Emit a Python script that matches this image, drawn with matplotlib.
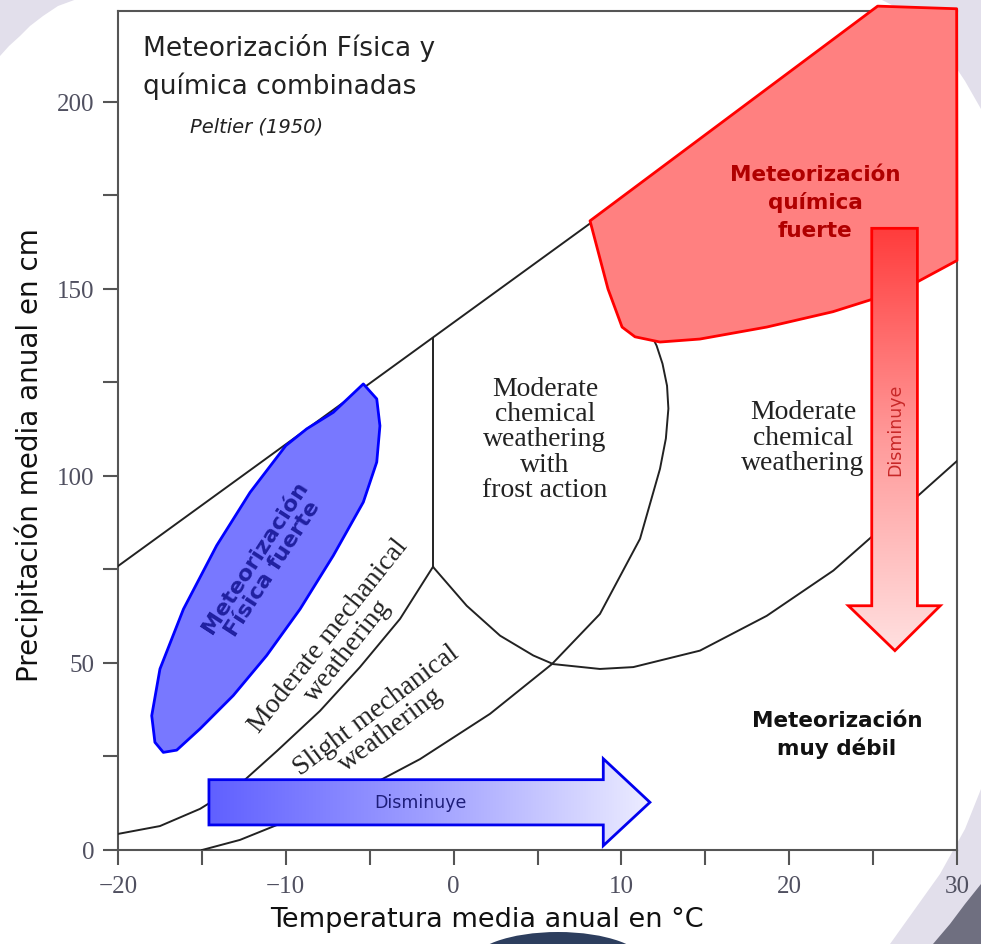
import numpy as np
import matplotlib
matplotlib.use("Agg")
import matplotlib.pyplot as plt
from matplotlib.patches import Polygon, Ellipse
from matplotlib.colors import LinearSegmentedColormap

# ---- datos leidos del diagrama de Peltier (1950) ----
# linea superior (limite de precipitacion)
upper_x = [-20, 8.1, 25.3]
upper_y = [75.9, 167.4, 224.5]

# linea vertical (frost action / mechanical)
vert_x = [-1.23, -1.23]
vert_y = [75.7, 137.0]

# curva moderate mechanical / slight mechanical
curveA_x = [-20, -17.5, -15.11, -12.73, -10.52, -7.96, -5.58, -3.19, -1.23]
curveA_y = [4.3, 6.4, 11.0, 17.6, 26.5, 37.2, 48.9, 61.8, 75.7]

# curva slight mechanical / muy debil  ->  frost action / moderate chemical
curveB_x = [-14.99, -12.73, -10.52, -6.17, -2.0, 2.17, 5.86, 8.72, 11.11,
            12.3, 12.65, 12.8, 12.72, 12.45, 12.1, 11.7]
curveB_y = [0.0, 2.7, 6.7, 14.4, 24.3, 36.4, 49.7, 63.1, 83.2,
            101.9, 110.0, 118.0, 124.1, 130.0, 134.8, 138.5]

# curva inferior de moderate chemical weathering
curveC_x = [-1.21, 0.78, 2.77, 4.75, 5.94, 8.72, 10.71, 14.68, 18.66, 22.63, 26.6, 30.0]
curveC_y = [75.6, 65.3, 57.3, 52.0, 49.7, 48.4, 48.9, 53.3, 62.6, 74.7, 90.4, 104.0]

# zona roja: meteorizacion quimica fuerte
red_x = [25.27, 29.98, 30.0, 27.6, 25.0, 22.6, 18.66, 14.68, 12.3, 10.81, 10.04, 9.2, 8.13]
red_y = [225.6, 224.9, 157.6, 151.8, 147.3, 143.9, 139.8, 136.6, 135.8, 137.2, 139.8, 150.0, 168.2]

# zona azul: meteorizacion fisica fuerte
blue_x = [-5.38, -4.58, -4.39, -4.58, -5.38, -7.17, -9.15, -11.14, -13.13, -15.11, -16.5,
          -17.3, -17.8, -17.99, -17.5, -16.1, -14.12, -12.13, -10.0, -8.75, -7.17]
blue_y = [124.6, 120.6, 113.4, 103.7, 93.0, 78.7, 64.4, 52.0, 41.3, 32.4, 26.7,
          26.1, 28.8, 35.9, 48.4, 64.4, 81.4, 95.6, 108.1, 112.6, 117.0]

# flecha roja (disminuye hacia abajo)
rarrow_x = [24.92, 27.64, 27.64, 29.0, 26.3, 23.53, 24.92]
rarrow_y = [166.2, 166.2, 65.3, 65.3, 53.3, 65.3, 65.3]

# flecha azul (disminuye hacia la derecha)
barrow_x = [-14.58, 8.92, 8.92, 11.7, 8.92, 8.92, -14.58]
barrow_y = [18.8, 18.8, 24.4, 12.75, 1.15, 6.7, 6.7]

xticks = [-20, -15, -10, -5, 0, 5, 10, 15, 20, 25, 30]
xlabels = ["\u221220", "", "\u221210", "", "0", "", "10", "", "20", "", "30"]
yticks = [0, 25, 50, 75, 100, 125, 150, 175, 200]
ylabels = ["0", "", "50", "", "100", "", "150", "", "200"]

fig = plt.figure(figsize=(9.81, 9.45), dpi=100, facecolor="white")

# ---- fondo decorativo (coordenadas en pixeles) ----
bg = fig.add_axes([0, 0, 1, 1], zorder=0)
bg.set_xlim(0, 981)
bg.set_ylim(945, 0)
bg.axis("off")
lav = "#e2dfeb"
bg.add_patch(Polygon([(0, 0), (77, 0), (58, 7), (43, 17), (30, 27), (20, 37), (9, 47), (0, 57)],
                     closed=True, fc=lav, ec="none"))
bg.add_patch(Polygon([(880, 0), (981, 0), (981, 110), (965, 82), (945, 52), (925, 30), (905, 14), (890, 5)],
                     closed=True, fc=lav, ec="none"))
bg.add_patch(Polygon([(981, 790), (965, 830), (940, 875), (915, 910), (890, 945), (981, 945)],
                     closed=True, fc=lav, ec="none"))
bg.add_patch(Polygon([(933, 945), (950, 925), (965, 905), (981, 885), (981, 945)],
                     closed=True, fc="#6f6f80", ec="none"))
bg.add_patch(Ellipse((558, 965), 175, 64, fc="#2d3e5e", ec="none"))

# ---- grafico principal ----
ax = fig.add_axes([118 / 981, 1 - 851 / 945, 839 / 981, 839 / 945], zorder=1)
ax.set_facecolor("white")
ax.set_xlim(-20, 30)
ax.set_ylim(0, 224.3)

lk = dict(color="#222222", lw=1.4, zorder=2, solid_joinstyle="round")
ax.plot(upper_x, upper_y, **lk)
ax.plot(vert_x, vert_y, **lk)
ax.plot(curveA_x, curveA_y, **lk)
ax.plot(curveB_x, curveB_y, **lk)
ax.plot(curveC_x, curveC_y, **lk)

ax.add_patch(Polygon(np.column_stack([red_x, red_y]), closed=True, fc="#ff8080", ec="#ff0000",
                     lw=2, zorder=3, clip_on=False, joinstyle="round"))
ax.add_patch(Polygon(np.column_stack([blue_x, blue_y]), closed=True, fc="#7878ff", ec="#0000ff",
                     lw=2, zorder=3, joinstyle="round"))

# flechas con degradado
grad = np.linspace(0, 1, 256)
rp = Polygon(np.column_stack([rarrow_x, rarrow_y]), closed=True, fc="none", ec="#ff0000", lw=2, zorder=5)
ax.add_patch(rp)
rcm = LinearSegmentedColormap.from_list("r", ["#ffe0e0", "#ff9a9a", "#ff3c3c"])
im = ax.imshow(grad.reshape(-1, 1), extent=[min(rarrow_x), max(rarrow_x), min(rarrow_y), max(rarrow_y)],
               origin="lower", cmap=rcm, aspect="auto", zorder=4)
im.set_clip_path(rp)

bp = Polygon(np.column_stack([barrow_x, barrow_y]), closed=True, fc="none", ec="#0000ee", lw=2, zorder=5)
ax.add_patch(bp)
bcm = LinearSegmentedColormap.from_list("b", ["#6060ff", "#a0a0ff", "#ececff"])
im2 = ax.imshow(grad.reshape(1, -1), extent=[min(barrow_x), max(barrow_x), min(barrow_y), max(barrow_y)],
                origin="lower", cmap=bcm, aspect="auto", zorder=4)
im2.set_clip_path(bp)

ax.set_xlim(-20, 30)
ax.set_ylim(0, 224.3)

# ---- textos ----
sans = "DejaVu Sans"
serif = "Liberation Serif"
ax.text(-18.51, 212.5, "Meteorización Física y", fontsize=19, family=sans, color="#222222",
        ha="left", va="baseline", zorder=6)
ax.text(-18.51, 202.5, "química combinadas", fontsize=19, family=sans, color="#222222",
        ha="left", va="baseline", zorder=6)
ax.text(-15.7, 192.0, "Peltier (1950)", fontsize=14, family=sans, style="italic",
        color="#222222", ha="left", va="baseline", zorder=6)

ax.text(21.54, 173.3, "Meteorización\nquímica\nfuerte", fontsize=15.5, family=sans, weight="bold",
        color="#b00000", ha="center", va="center", linespacing=1.45, zorder=6)
ax.text(22.85, 31.0, "Meteorización\nmuy débil", fontsize=15.5, family=sans, weight="bold",
        color="#111111", ha="center", va="center", linespacing=1.4, zorder=6)
ax.text(-11.3, 77.0, "Meteorización\nFísica fuerte", fontsize=16, family=sans, weight="bold",
        color="#2020a0", ha="center", va="center", rotation=57, rotation_mode="anchor",
        linespacing=1.05, zorder=6)

ax.text(5.45, 109.9, "Moderate\nchemical\nweathering\nwith\nfrost action", fontsize=20, family=serif,
        color="#222222", ha="center", va="center", linespacing=1.02, zorder=6)
ax.text(20.82, 110.4, "Moderate\nchemical\nweathering", fontsize=20, family=serif,
        color="#222222", ha="center", va="center", linespacing=1.02, zorder=6)
ax.text(-6.9, 55.5, "Moderate mechanical\nweathering", fontsize=20, family=serif,
        color="#222222", ha="center", va="center", rotation=51.5, rotation_mode="anchor",
        linespacing=0.95, zorder=6)
ax.text(-4.2, 35.0, "Slight mechanical\nweathering", fontsize=20, family=serif,
        color="#222222", ha="center", va="center", rotation=37, rotation_mode="anchor",
        linespacing=0.95, zorder=6)

ax.text(26.3, 112.6, "Disminuye", fontsize=12.5, family=sans, color="#c82828",
        ha="center", va="center", rotation=90, zorder=6)
ax.text(-2.0, 12.8, "Disminuye", fontsize=12.5, family=sans, color="#1e1e7a",
        ha="center", va="center", zorder=6)

# ---- ejes ----
for s in ["left", "bottom", "top", "right"]:
    ax.spines[s].set_color("#555555")
    ax.spines[s].set_linewidth(1.5)
    ax.spines[s].set_zorder(1)
ax.set_xticks(xticks, labels=xlabels)
ax.set_yticks(yticks, labels=ylabels)
ax.tick_params(axis="both", direction="out", length=11, width=1.5, color="#555555",
               labelcolor="#505060", labelsize=18)
ax.tick_params(axis="x", pad=7)
ax.tick_params(axis="y", pad=6)
for lab in ax.get_xticklabels() + ax.get_yticklabels():
    lab.set_family(serif)

fig.text(0.0296, 0.5185, "Precipitación media anual en cm", fontsize=20, family=sans,
         color="#111111", rotation=90, ha="center", va="center")
fig.text(0.4964, 0.0265, "Temperatura media anual en °C", fontsize=19.5, family=sans,
         color="#111111", ha="center", va="center")

plt.savefig("out.png", dpi=100, facecolor="white")
